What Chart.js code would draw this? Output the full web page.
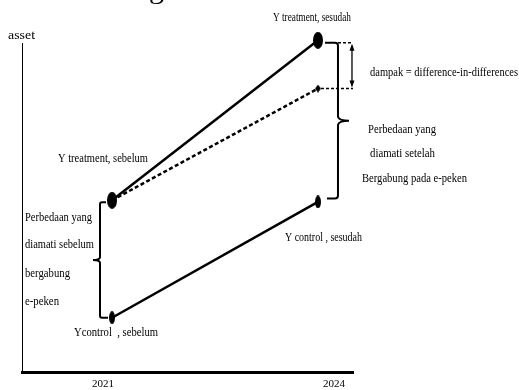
<!DOCTYPE html>
<html>
<head>
<meta charset="utf-8">
<script src="https://cdn.jsdelivr.net/npm/chart.js@4"></script>
<style>
  html, body { margin: 0; padding: 0; background: #fff; }
</style>
</head>
<body>
<canvas id="didChart" width="519" height="390"></canvas>
<script>
// values (asset on a 0-100 scale)
const years = [2021, 2024];
const yearTicks = [2021, 2024];
const treatment = [52.3, 100.8];
const control = [16.7, 51.8];
const counterfactual = [52.3, 86.2];

// annotation texts: [text, left x, baseline y, width, font size]
const notes = [
  ['asset', 8, 39, 27, 13],
  ['Y treatment, sesudah', 273, 21, 78, 13],
  ['dampak = difference-in-differences', 370, 76, 148, 13],
  ['Perbedaan yang', 368, 133, 68, 13],
  ['diamati setelah', 370, 157, 65, 13],
  ['Bergabung pada e-peken', 362, 182, 105, 13],
  ['Y control , sesudah', 285, 241, 77, 13],
  ['Y treatment, sebelum', 58, 162, 90, 13],
  ['Perbedaan yang', 25, 221, 67, 13],
  ['diamati sebelum', 25, 248, 69, 13],
  ['bergabung', 25, 277, 45, 13],
  ['e-peken', 25, 305, 34, 13],
  ['Ycontrol  , sebelum', 74, 336, 84, 13],
  ['g', 149, -2, 15, 28]
];

function ellipseDot(w, h) {
  const c = document.createElement('canvas');
  c.width = w; c.height = h;
  const g = c.getContext('2d');
  g.fillStyle = '#000';
  g.beginPath();
  g.ellipse(w / 2, h / 2, w / 2, h / 2, 0, 0, Math.PI * 2);
  g.fill();
  return c;
}

function diamondDot(w, h) {
  const c = document.createElement('canvas');
  c.width = w; c.height = h;
  const g = c.getContext('2d');
  g.fillStyle = '#000';
  g.beginPath();
  g.moveTo(w / 2, 0); g.lineTo(w, h / 2); g.lineTo(w / 2, h); g.lineTo(0, h / 2);
  g.closePath();
  g.fill();
  return c;
}

const toPts = vals => years.map((yr, i) => ({ x: yr, y: vals[i] }));

function line(ctx, x1, y1, x2, y2) {
  ctx.beginPath(); ctx.moveTo(x1, y1); ctx.lineTo(x2, y2); ctx.stroke();
}

const overlay = {
  id: 'overlay',
  afterDatasetsDraw(chart) {
    const ctx = chart.ctx;
    const xs = chart.scales.x, ys = chart.scales.y;
    const x0 = xs.getPixelForValue(years[0]);
    const x1 = xs.getPixelForValue(years[1]);
    const yT0 = ys.getPixelForValue(treatment[0]);
    const yT1 = ys.getPixelForValue(treatment[1]);
    const yC0 = ys.getPixelForValue(control[0]);
    const yC1 = ys.getPixelForValue(control[1]);
    const yCF = ys.getPixelForValue(counterfactual[1]);

    ctx.save();
    ctx.strokeStyle = '#000';
    ctx.fillStyle = '#000';

    // right brace: observed difference after
    const bx = x1 + 20, top = yT1 + 2.5, bot = yC1 - 3.5, mid = (top + bot) / 2;
    ctx.lineWidth = 2;
    ctx.beginPath();
    ctx.moveTo(x1 + 7, top);
    ctx.lineTo(bx - 3, top);
    ctx.quadraticCurveTo(bx, top, bx, top + 3);
    ctx.lineTo(bx, mid - 4);
    ctx.quadraticCurveTo(bx + 1, mid, bx + 11, mid);
    ctx.moveTo(bx + 11, mid);
    ctx.quadraticCurveTo(bx + 1, mid, bx, mid + 4);
    ctx.lineTo(bx, bot - 3);
    ctx.quadraticCurveTo(bx, bot, bx - 3, bot);
    ctx.lineTo(x1 + 9, bot);
    ctx.stroke();

    // dampak: dashed guides + double arrow
    const ax = x1 + 34;
    ctx.lineWidth = 1.5;
    ctx.setLineDash([3, 2]);
    line(ctx, bx, top, ax + 1, top);
    line(ctx, x1 + 3, yCF, ax + 1, yCF);
    ctx.setLineDash([]);
    ctx.lineWidth = 1.3;
    line(ctx, ax, top + 3, ax, yCF - 3);
    ctx.beginPath();
    ctx.moveTo(ax, top + 1); ctx.lineTo(ax - 2.5, top + 8); ctx.lineTo(ax + 2.5, top + 8); ctx.closePath();
    ctx.moveTo(ax, yCF - 1); ctx.lineTo(ax - 2.5, yCF - 8); ctx.lineTo(ax + 2.5, yCF - 8); ctx.closePath();
    ctx.fill();

    // left brace: observed difference before
    const lx = x0 - 12, ltop = yT0 + 2, lbot = yC0, lmid = (ltop + lbot) / 2;
    ctx.lineWidth = 2;
    ctx.beginPath();
    ctx.moveTo(x0 - 6, ltop);
    ctx.lineTo(lx + 2, ltop);
    ctx.quadraticCurveTo(lx, ltop, lx, ltop + 2);
    ctx.lineTo(lx, lmid - 3);
    ctx.quadraticCurveTo(lx, lmid, lx - 7, lmid);
    ctx.moveTo(lx - 7, lmid);
    ctx.quadraticCurveTo(lx, lmid, lx, lmid + 3);
    ctx.lineTo(lx, lbot - 2);
    ctx.quadraticCurveTo(lx, lbot, lx + 2, lbot);
    ctx.lineTo(x0 - 4, lbot);
    ctx.stroke();

    // texts, squeezed to the width they take in the picture
    ctx.textBaseline = 'alphabetic';
    notes.forEach(n => {
      ctx.font = n[4] + 'px "Liberation Serif"';
      const w = ctx.measureText(n[0]).width;
      ctx.save();
      ctx.translate(n[1], n[2]);
      ctx.scale(n[3] / w, 1);
      ctx.fillText(n[0], 0, 0);
      ctx.restore();
    });
    ctx.restore();
  }
};

new Chart(document.getElementById('didChart'), {
  type: 'line',
  data: {
    datasets: [
      {
        label: 'counterfactual',
        data: toPts(counterfactual),
        borderColor: '#000',
        borderWidth: 2.5,
        borderDash: [4, 2.5],
        pointStyle: [false, diamondDot(6, 8)],
        pointRadius: [0, 5],
        clip: false
      },
      {
        label: 'treatment',
        data: toPts(treatment),
        borderColor: '#000',
        borderWidth: 2.5,
        pointStyle: ellipseDot(10, 17),
        pointRadius: 5,
        clip: false
      },
      {
        label: 'control',
        data: toPts(control),
        borderColor: '#000',
        borderWidth: 2.5,
        pointStyle: ellipseDot(6, 13),
        pointRadius: 5,
        clip: false
      }
    ]
  },
  options: {
    responsive: false,
    animation: false,
    layout: { padding: { left: 22, right: 166, top: 43, bottom: -6 } },
    plugins: { legend: { display: false }, tooltip: { enabled: false } },
    scales: {
      x: { type: 'linear', display: false, min: 2019.689, max: 2024.51 },
      xYear: {
        type: 'linear',
        position: 'bottom',
        min: 2019.948,
        max: 2024.247,
        grid: { display: false, drawTicks: false },
        border: { display: true, color: '#000', width: 3 },
        afterBuildTicks: s => { s.ticks = yearTicks.map(v => ({ value: v })); },
        ticks: {
          autoSkip: false,
          padding: 5,
          color: '#000',
          font: { family: 'Liberation Serif', size: 11 },
          callback: v => String(v)
        }
      },
      y: {
        type: 'linear',
        min: 0,
        max: 100,
        grid: { display: false, drawTicks: false },
        ticks: { display: false },
        border: { display: true, color: '#000', width: 1 }
      }
    }
  },
  plugins: [overlay]
});
</script>
</body>
</html>
